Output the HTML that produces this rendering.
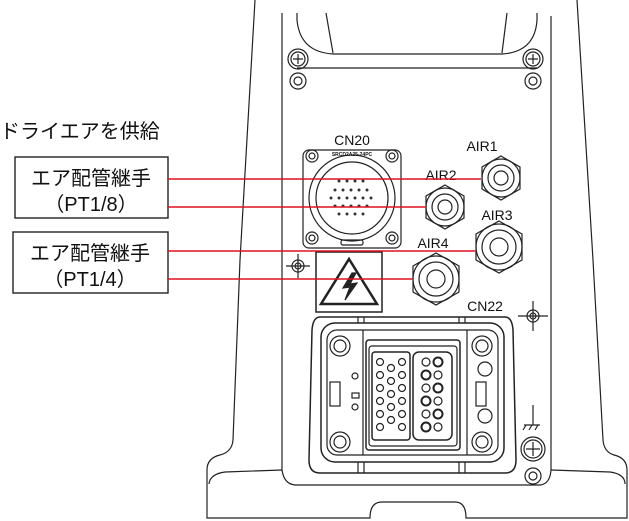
<!DOCTYPE html>
<html><head><meta charset="utf-8"><style>
html,body{margin:0;padding:0;background:#fff;}
svg{display:block;}
text{font-family:"Liberation Sans","Noto Sans CJK JP",sans-serif;fill:#111;}
</style></head><body>
<svg width="629" height="521" viewBox="0 0 629 521" xmlns="http://www.w3.org/2000/svg">
<g fill="none" stroke="#222" stroke-width="1.2">
<path d="M255 0 L240 260 L233 440 Q232 452 220 455 Q207 458 207 470 L207 518 L370 518 Q370 502 382 502 L455 502 Q466 502 466 518 L627 518 L627 470 Q627 458 614 455 Q604 452 603 440 L593 260 L577 0"/>
<path d="M209 484 Q210 474 225 472 L282 470 M551 470 L610 472 Q625 474 625 484"/>
<path d="M282 470 Q284 484 295 485 L540 485 Q550 484 551 470"/>
<path d="M282 13 L282 470 M551 16 L551 470"/>
<path d="M297 13 L297 20 Q300 52 333 54 L502 54 Q535 52 537 20 L537 13"/>
<path d="M326 13 L333 53 M507 13 L502 53"/>
<path d="M297 68 L537 68"/>
<circle cx="298" cy="59" r="10"/><circle cx="298" cy="59" r="7"/>
<path d="M293 59h10M298 54v10"/>
<circle cx="533" cy="59" r="10"/><circle cx="533" cy="59" r="7"/>
<path d="M528 59h10M533 54v10"/>
<circle cx="298" cy="81" r="8"/><circle cx="298" cy="81" r="4"/>
<circle cx="533" cy="81" r="8"/><circle cx="533" cy="81" r="4"/>
<rect x="303" y="150" width="98" height="98" rx="6"/>
<circle cx="312" cy="156" r="6"/><circle cx="312" cy="156" r="3"/>
<circle cx="392" cy="156" r="6"/><circle cx="392" cy="156" r="3"/>
<circle cx="312" cy="238" r="6"/><circle cx="312" cy="238" r="3"/>
<circle cx="392" cy="238" r="6"/><circle cx="392" cy="238" r="3"/>
<circle cx="352" cy="198" r="43"/><circle cx="352" cy="198" r="36"/>
<rect x="341" y="240" width="22" height="5" rx="2"/>
<polygon points="501,156 520,167 520,189 501,200 482,189 482,167"/>
<circle cx="501" cy="178" r="19"/><circle cx="501" cy="178" r="13"/><circle cx="501" cy="178" r="7"/>
<polygon points="445,185 464,196 464,218 445,229 426,218 426,196"/>
<circle cx="445" cy="207" r="19"/><circle cx="445" cy="207" r="13"/><circle cx="445" cy="207" r="7"/>
<polygon points="499,221 522,234 522,260 499,273 476,260 476,234"/>
<circle cx="499" cy="247" r="23"/><circle cx="499" cy="247" r="17"/><circle cx="499" cy="247" r="9"/>
<polygon points="436,253 459,266 459,292 436,305 413,292 413,266"/>
<circle cx="436" cy="279" r="23"/><circle cx="436" cy="279" r="17"/><circle cx="436" cy="279" r="9"/>
<circle cx="298" cy="266" r="6"/><circle cx="298" cy="266" r="3"/><path d="M286 266h24M298 254v24"/>
<circle cx="533" cy="316" r="6"/><circle cx="533" cy="316" r="3"/><path d="M518 316h30M533 301v30"/>
<rect x="316" y="252" width="66" height="60" stroke-width="1.5"/>
<path d="M349 259 L377 304 L321 304 Z" stroke-width="2.5"/>
<path d="M352 273 L343 288 L350 287 L345 300 L357 283 L350 284 L356 273 Z" fill="#222"/>
<path d="M320 317 L505 317 Q512 317 513 330 L516 460 Q516 473 505 473 L320 473 Q309 473 309 460 L312 330 Q313 317 320 317 Z" stroke-width="1.5"/>
<rect x="321" y="323" width="183" height="139" rx="14" stroke-width="1.5"/>
<rect x="327" y="330" width="171" height="125" rx="10"/>
<path d="M363 330 V455 M467 330 V455 M358 317v6 M364 317v6 M459 317v6 M465 317v6 M358 462v11 M364 462v11 M459 462v11 M465 462v11"/>
<circle cx="340" cy="346" r="10"/><circle cx="340" cy="346" r="6"/>
<circle cx="482" cy="346" r="10"/><circle cx="482" cy="346" r="6"/>
<circle cx="340" cy="442" r="10"/><circle cx="340" cy="442" r="6"/>
<circle cx="482" cy="442" r="10"/><circle cx="482" cy="442" r="6"/>
<rect x="366" y="340" width="94" height="110" rx="3" stroke-width="1.5"/>
<rect x="369" y="346" width="88" height="100" rx="3"/>
<rect x="372" y="352" width="38" height="88" rx="3" stroke-width="1.5"/>
<rect x="413" y="352" width="39" height="88" rx="6" stroke-width="1.5"/>
<rect x="330" y="382" width="10" height="24"/>
<rect x="352" y="393" width="7" height="5"/>
<circle cx="355" cy="376" r="3"/><circle cx="355" cy="407" r="3"/>
<rect x="476" y="382" width="10" height="24"/>
<circle cx="485" cy="369" r="7"/><circle cx="485" cy="416" r="7"/>
<circle cx="533" cy="449" r="12"/><circle cx="533" cy="449" r="9"/><path d="M526 449h14M533 442v14"/>
<circle cx="533" cy="476" r="8"/><circle cx="533" cy="476" r="4"/>
<path d="M533 405v20 M524 425h16 M526 425l-3 5 M532 425l-3 5 M538 425l-3 5"/>
</g>
<g fill="none" stroke="#222" stroke-width="1.2">
<g fill="#333" stroke="none">
<circle cx="339" cy="181" r="1.5"/><circle cx="347" cy="181" r="1.5"/><circle cx="355" cy="181" r="1.5"/><circle cx="363" cy="181" r="1.5"/>
<circle cx="335" cy="190" r="1.5"/><circle cx="343" cy="190" r="1.5"/><circle cx="351" cy="190" r="1.5"/><circle cx="359" cy="190" r="1.5"/><circle cx="367" cy="190" r="1.5"/>
<circle cx="331" cy="198" r="1.5"/><circle cx="339" cy="198" r="1.5"/><circle cx="347" cy="198" r="1.5"/><circle cx="355" cy="198" r="1.5"/><circle cx="363" cy="198" r="1.5"/><circle cx="371" cy="198" r="1.5"/>
<circle cx="335" cy="206" r="1.5"/><circle cx="343" cy="206" r="1.5"/><circle cx="351" cy="206" r="1.5"/><circle cx="359" cy="206" r="1.5"/><circle cx="367" cy="206" r="1.5"/>
<circle cx="339" cy="214" r="1.5"/><circle cx="347" cy="214" r="1.5"/><circle cx="355" cy="214" r="1.5"/><circle cx="363" cy="214" r="1.5"/>
</g>
<g>
<circle cx="380" cy="362" r="3.5"/><circle cx="402" cy="362" r="3.5"/>
<circle cx="380" cy="375" r="3.5"/><circle cx="391" cy="368" r="3.5"/><circle cx="402" cy="375" r="3.5"/>
<circle cx="380" cy="388" r="3.5"/><circle cx="391" cy="381" r="3.5"/><circle cx="402" cy="388" r="3.5"/>
<circle cx="380" cy="401" r="3.5"/><circle cx="391" cy="394" r="3.5"/><circle cx="402" cy="401" r="3.5"/>
<circle cx="380" cy="414" r="3.5"/><circle cx="391" cy="407" r="3.5"/><circle cx="402" cy="414" r="3.5"/>
<circle cx="380" cy="427" r="3.5"/><circle cx="391" cy="420" r="3.5"/><circle cx="402" cy="427" r="3.5"/>
<circle cx="426" cy="362" r="4"/><circle cx="438" cy="362" r="4.5" stroke-width="2"/>
<circle cx="426" cy="375" r="4.5" stroke-width="2"/><circle cx="438" cy="375" r="4"/>
<circle cx="426" cy="388" r="4"/><circle cx="438" cy="388" r="4.5" stroke-width="2"/>
<circle cx="426" cy="401" r="4.5" stroke-width="2"/><circle cx="438" cy="401" r="4"/>
<circle cx="426" cy="414" r="4"/><circle cx="438" cy="414" r="4.5" stroke-width="2"/>
<circle cx="426" cy="427" r="4.5" stroke-width="2"/><circle cx="438" cy="427" r="4"/>
</g>
</g>
<text x="352" y="145" font-size="14" text-anchor="middle">CN20</text>
<text x="352" y="156" font-size="5" text-anchor="middle" font-weight="bold">SRCD2A25-24PC</text>
<text x="482" y="151" font-size="14" text-anchor="middle">AIR1</text>
<text x="441" y="180" font-size="14" text-anchor="middle">AIR2</text>
<text x="497" y="220" font-size="14" text-anchor="middle">AIR3</text>
<text x="433" y="248" font-size="14" text-anchor="middle">AIR4</text>
<text x="485" y="311" font-size="14" text-anchor="middle">CN22</text>
<text x="0" y="138" font-size="20">ドライエアを供給</text>
<rect x="15" y="157" width="153" height="61" fill="none" stroke="#222" stroke-width="1.4"/>
<rect x="13" y="232" width="155" height="61" fill="none" stroke="#222" stroke-width="1.4"/>
<text x="91" y="185" font-size="20" text-anchor="middle">エア配管継手</text>
<text x="91" y="211" font-size="20" text-anchor="middle">（PT1/8）</text>
<text x="90" y="260" font-size="20" text-anchor="middle">エア配管継手</text>
<text x="90" y="286" font-size="20" text-anchor="middle">（PT1/4）</text>
<g stroke="#e01020" stroke-width="1.4">
<path d="M168 179H481 M168 207H426 M168 251H476 M168 279H413"/>
</g>
</svg>
</body></html>
